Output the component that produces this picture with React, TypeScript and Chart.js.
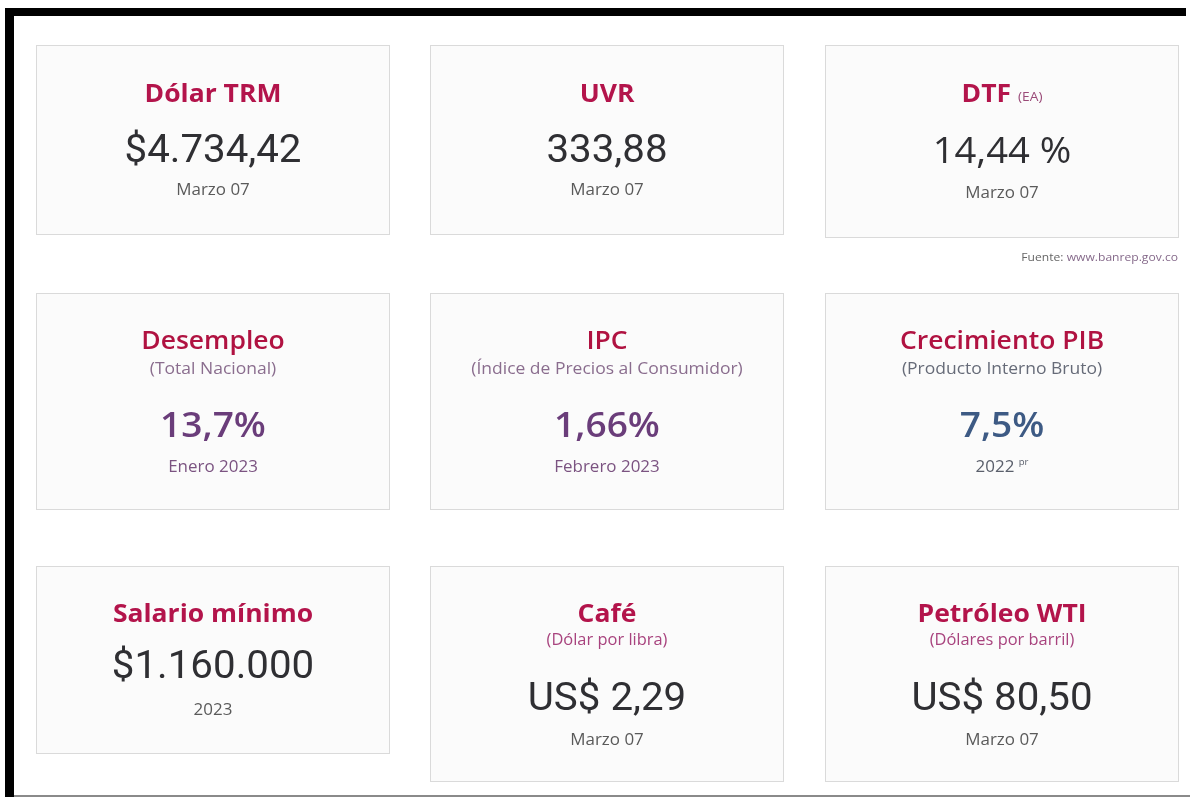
import React, { useEffect, useRef } from "react";
import { Chart, registerables } from "chart.js";

Chart.register(...registerables);

// ---- data ----
const titles = ["Dólar TRM", "UVR", "DTF", "Desempleo", "IPC", "Crecimiento PIB", "Salario mínimo", "Café", "Petróleo WTI"];
const titleNotes = ["", "", "(EA)", "", "", "", "", "", ""];
const subtitles = ["", "", "", "(Total Nacional)", "(Índice de Precios al Consumidor)", "(Producto Interno Bruto)", "", "(Dólar por libra)", "(Dólares por barril)"];
const values = ["$4.734,42", "333,88", "14,44 %", "13,7%", "1,66%", "7,5%", "$1.160.000", "US$ 2,29", "US$ 80,50"];
const dates = ["Marzo 07", "Marzo 07", "Marzo 07", "Enero 2023", "Febrero 2023", "2022", "2023", "Marzo 07", "Marzo 07"];
const dateNotes = ["", "", "", "", "", "pr", "", "", ""];
const sourceLabel = "Fuente:";
const sourceUrl = "www.banrep.gov.co";

// ---- layout (pixels) ----
const cardX = [36, 430, 825, 36, 430, 825, 36, 430, 825];
const cardY = [45, 45, 45, 293, 293, 293, 566, 566, 566];
const cardW = 354;
const cardH = [190, 190, 193, 217, 217, 217, 188, 216, 216];
// baselines
const titleBase = [102, 102, 102, 349, 349, 349, 622, 622, 622];
const subBase = [0, 0, 0, 374, 374, 374, 0, 645, 645];
const valueBase = [162, 162, 163, 437, 437, 437, 678, 710, 710];
const dateBase = [195, 195, 198, 472, 472, 472, 715, 745, 745];

const SX = 1.06;

const titleFontA = '700 25px "Open Sans"';
const titleFontB = '600 25px "Open Sans"';
const titleColor = "#b3144b";
const titleColorB = "#b01241";
const valueFontA = '400 38px Roboto';
const valueFontDTF = '400 36px "Open Sans"';
const valueFontB = '600 35px "Open Sans"';
const valueColorA = "#2f2f33";
const valueColorsB = ["#6a3d7a", "#6a3d7a", "#3d5a84"];
const dateFont = '400 16px "Open Sans"';
const dateFontB = '400 16px "Open Sans"';
const dateColor = "#5a5a5a";
const dateColorsB = ["#7b5381", "#7b5381", "#5a5f6b"];
const subFontB = '400 16.5px "Open Sans"';
const subFontC = '400 15.5px "Open Sans"';
const subColorsB = ["#8a6d8e", "#8a6d8e", "#666b78"];
const subColorC = "#a8437e";

function stretchedText(ctx: CanvasRenderingContext2D, text: string, cx: number, y: number, font: string, color: string, sx = SX) {
  ctx.save();
  ctx.font = font;
  ctx.fillStyle = color;
  ctx.textAlign = "center";
  ctx.textBaseline = "alphabetic";
  ctx.translate(cx, y);
  ctx.scale(sx, 1);
  ctx.fillText(text, 0, 0);
  ctx.restore();
}

const cardsPlugin = {
  id: "cards",
  afterDraw(chart: any) {
    const ctx: CanvasRenderingContext2D = chart.ctx;
    const W = chart.width;
    const H = chart.height;
    ctx.save();
    ctx.fillStyle = "#ffffff";
    ctx.fillRect(0, 0, W, H);

    // frame
    ctx.fillStyle = "#000000";
    ctx.fillRect(5, 8, 1181, 8);
    ctx.fillRect(5, 8, 9, H - 8);
    ctx.fillStyle = "#8a8a8a";
    ctx.fillRect(14, 795, W - 14, 2);

    for (let i = 0; i < titles.length; i++) {
      const x = cardX[i];
      const y = cardY[i];
      const h = cardH[i];
      const cx = x + cardW / 2;
      ctx.fillStyle = "#fbfbfb";
      ctx.fillRect(x, y, cardW, h);
      ctx.strokeStyle = "#dadada";
      ctx.lineWidth = 1;
      ctx.strokeRect(x + 0.5, y + 0.5, cardW - 1, h - 1);

      const row = Math.floor(i / 3);
      const col = i % 3;

      // title
      if (titleNotes[i]) {
        ctx.font = titleFontA;
        const w1 = ctx.measureText(titles[i] + " ").width * SX;
        ctx.font = '400 13px "Open Sans"';
        const w2 = ctx.measureText(titleNotes[i]).width * SX;
        const left = cx - (w1 + w2) / 2;
        ctx.save();
        ctx.textAlign = "left";
        ctx.textBaseline = "alphabetic";
        ctx.translate(left, titleBase[i]);
        ctx.scale(SX, 1);
        ctx.font = titleFontA;
        ctx.fillStyle = titleColor;
        ctx.fillText(titles[i] + " ", 0, 0);
        ctx.font = '400 13px "Open Sans"';
        ctx.fillStyle = "#9a4a78";
        ctx.fillText(titleNotes[i], w1 / SX, -1);
        ctx.restore();
      } else {
        stretchedText(ctx, titles[i], cx, titleBase[i], row === 1 ? titleFontB : titleFontA, row === 1 ? titleColorB : titleColor);
      }

      // subtitle
      if (subtitles[i]) {
        if (row === 1) stretchedText(ctx, subtitles[i], cx, subBase[i], subFontB, subColorsB[col]);
        else stretchedText(ctx, subtitles[i], cx, subBase[i], subFontC, subColorC);
      }

      // value
      if (row === 1) stretchedText(ctx, values[i], cx, valueBase[i], valueFontB, valueColorsB[col]);
      else if (titleNotes[i]) stretchedText(ctx, values[i], cx, valueBase[i], valueFontDTF, valueColorA);
      else stretchedText(ctx, values[i], cx, valueBase[i], valueFontA, valueColorA);

      // date
      const dFont = row === 1 ? dateFontB : dateFont;
      const dColor = row === 1 ? dateColorsB[col] : dateColor;
      if (dateNotes[i]) {
        ctx.font = dFont;
        const w1 = ctx.measureText(dates[i] + " ").width * SX;
        ctx.font = '400 9px "Open Sans"';
        const w2 = ctx.measureText(dateNotes[i]).width * SX;
        const left = cx - (w1 + w2) / 2;
        ctx.save();
        ctx.textAlign = "left";
        ctx.textBaseline = "alphabetic";
        ctx.translate(left, dateBase[i]);
        ctx.scale(SX, 1);
        ctx.font = dFont;
        ctx.fillStyle = dColor;
        ctx.fillText(dates[i] + " ", 0, 0);
        ctx.font = '400 9px "Open Sans"';
        ctx.fillText(dateNotes[i], w1 / SX, -7);
        ctx.restore();
      } else {
        stretchedText(ctx, dates[i], cx, dateBase[i], dFont, dColor);
      }
    }

    // source
    ctx.save();
    ctx.textBaseline = "alphabetic";
    ctx.textAlign = "right";
    ctx.font = '400 11px "Open Sans"';
    ctx.translate(1178, 261);
    ctx.scale(1.1, 1);
    ctx.fillStyle = "#85698a";
    ctx.fillText(sourceUrl, 0, 0);
    const wu = ctx.measureText(sourceUrl + " ").width;
    ctx.fillStyle = "#666666";
    ctx.fillText(sourceLabel, -wu, 0);
    ctx.restore();

    ctx.restore();
  },
};

export default function App() {
  const ref = useRef<HTMLCanvasElement | null>(null);
  useEffect(() => {
    if (!ref.current) return;
    const chart = new Chart(ref.current, {
      type: "scatter",
      data: { datasets: [{ data: [] as any[] }] },
      options: {
        animation: false,
        responsive: false,
        devicePixelRatio: 1,
        events: [],
        layout: { padding: 0 },
        plugins: { legend: { display: false }, tooltip: { enabled: false }, title: { display: false } },
        scales: { x: { display: false }, y: { display: false } },
      },
      plugins: [cardsPlugin],
    });
    return () => chart.destroy();
  }, []);
  return (
    <div style={{ position: "absolute", left: 0, top: 0, width: 1190, height: 797, background: "#fff" }}>
      <canvas ref={ref} width={1190} height={797} style={{ display: "block", width: 1190, height: 797 }} />
    </div>
  );
}
